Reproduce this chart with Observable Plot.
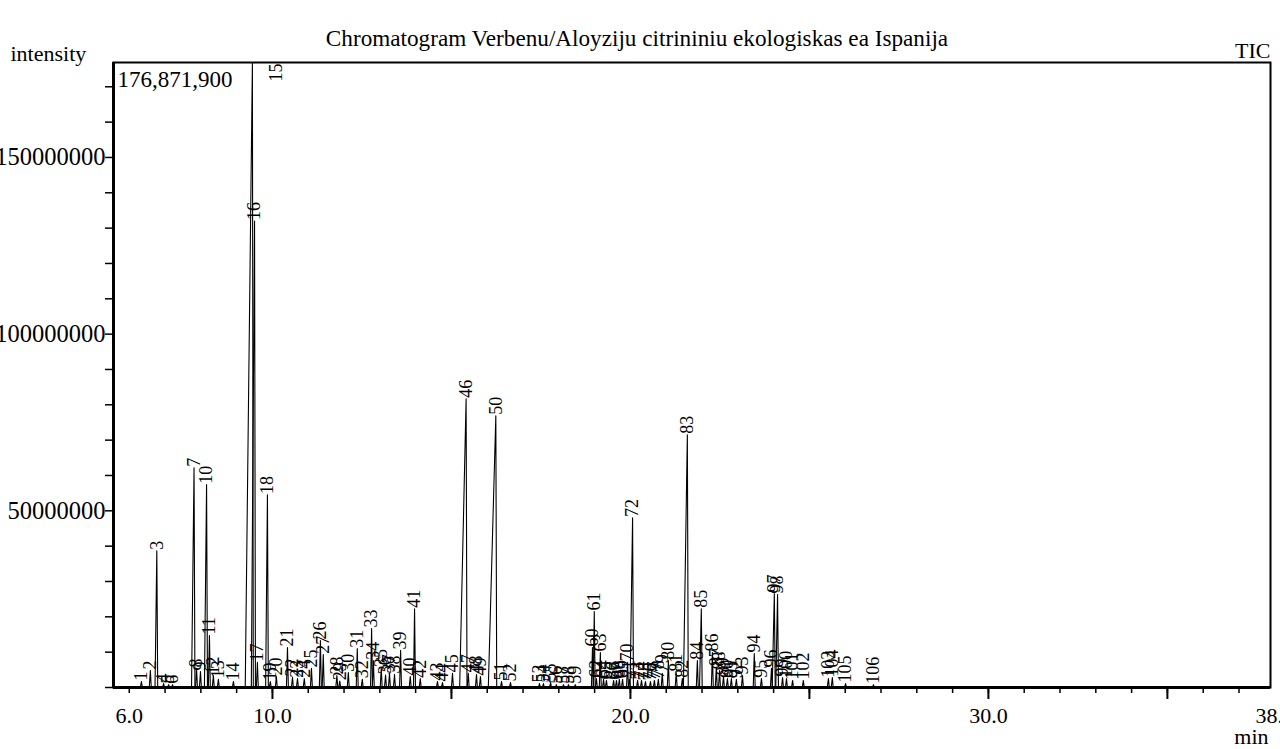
<!DOCTYPE html>
<html><head><meta charset="utf-8">
<script src="https://cdn.jsdelivr.net/npm/d3@7"></script>
<script src="https://cdn.jsdelivr.net/npm/@observablehq/plot@0.6"></script>
<style>html,body{margin:0;padding:0;background:#fff;overflow:hidden} #chart svg{display:block}</style>
</head><body><div id="chart"></div>
<script>
// ---- data ----
const chartTitle = "Chromatogram Verbenu/Aloyziju citrininiu ekologiskas ea Ispanija";
const maxIntensityLabel = "176,871,900";
const peakNo = [1,2,3,4,5,6,7,8,9,10,11,12,13,14,15,16,17,18,19,20,21,22,23,24,25,26,27,28,29,30,31,32,33,34,35,36,37,38,39,40,41,42,43,44,45,46,47,48,49,50,51,52,53,54,55,56,57,58,59,60,61,62,63,64,65,66,67,68,69,70,71,72,73,74,75,76,77,78,79,80,81,82,83,84,85,86,87,88,89,90,91,92,93,94,95,96,97,98,99,100,101,102,103,104,105,106];
const peakTime = [6.34,6.59,6.77,6.96,7.10,7.21,7.81,7.88,7.99,8.16,
  8.24,8.35,8.49,8.91,9.44,9.50,9.58,9.86,9.94,10.11,
  10.42,10.56,10.70,10.89,11.09,11.34,11.42,11.80,11.88,12.12,
  12.37,12.51,12.77,12.82,13.04,13.16,13.27,13.41,13.58,13.85,
  13.97,14.13,14.61,14.75,15.03,15.41,15.47,15.70,15.81,16.24,
  16.40,16.65,17.46,17.57,17.77,17.93,18.13,18.27,18.46,18.94,
  18.99,19.05,19.16,19.25,19.33,19.53,19.61,19.69,19.78,19.92,
  19.97,20.06,20.20,20.31,20.42,20.56,20.67,20.78,20.89,21.06,
  21.28,21.45,21.59,21.87,21.98,22.29,22.40,22.49,22.60,22.71,
  22.82,22.96,23.13,23.46,23.66,23.94,24.02,24.11,24.25,24.36,
  24.53,24.83,25.53,25.64,26.01,26.79];
const peakHeight = [1700000,4800000,38700000,1100000,800000,800000,62200000,5400000,4500000,57400000,
  14700000,3400000,2300000,1700000,176871900,132000000,7100000,54500000,1700000,3100000,
  11300000,2800000,2500000,2500000,5400000,13300000,9300000,3400000,1800000,4200000,
  11000000,2300000,16700000,7600000,5500000,3500000,4000000,3700000,10500000,3100000,
  22300000,2500000,1700000,1400000,4000000,81700000,4000000,3700000,3100000,76900000,
  1700000,1400000,1100000,1100000,1400000,800000,800000,800000,800000,11300000,
  21500000,2500000,9900000,2300000,2000000,2000000,2000000,2300000,2300000,7100000,
  2300000,48000000,2000000,2000000,1700000,1700000,2000000,2300000,4000000,7600000,
  4200000,2500000,71500000,7600000,22300000,9900000,5700000,4800000,3100000,2500000,
  2500000,2300000,3400000,9600000,2500000,5400000,26600000,26300000,2800000,2500000,
  2000000,2000000,2500000,2800000,1100000,800000];
// retention time where the wider peaks start rising (min before apex)
const peakRiseNo = [3,7,10,15,16,18,46,50,72,83,85,97,98];
const peakRise = [0.05,0.07,0.06,0.20,0.09,0.05,0.18,0.21,0.07,0.11,0.05,0.06,0.05];
const xTickValues = d3.range(6, 38);
const xMajorTickValues = [10, 15, 20, 25, 30, 35];
const xTickLabelValues = [6, 10, 20, 30, 38];
const xTickLabels = ["6.0", "10.0", "20.0", "30.0", "38.0"];
const yTickValues = d3.range(0, 175000000, 10000000);
const yTickLabelValues = [50000000, 100000000, 150000000];

// ---- build table ----
const xMin = 5.56, xMax = 37.88, yMax = 176871900;
const peaks = peakNo.map((n, i) => ({n, t: peakTime[i], h: peakHeight[i]}));
const trace = [];
for (const p of peaks) {
  const k = peakRiseNo.indexOf(p.n);
  const rise = k >= 0 ? peakRise[k] : 0.03;
  trace.push({z: p.n, t: p.t - rise, v: 0}, {z: p.n, t: p.t, v: p.h}, {z: p.n, t: p.t + 0.025, v: 0});
}
const serif = "'Liberation Serif', 'Times New Roman', serif";

const chart = Plot.plot({
  width: 1280, height: 749,
  marginTop: 62, marginBottom: 62, marginLeft: 113, marginRight: 10,
  x: {domain: [xMin, xMax], axis: null},
  y: {domain: [0, yMax], axis: null},
  style: {fontFamily: serif, fontSize: "22px", color: "black", background: "white"},
  marks: [
    Plot.ruleY([0], {stroke: "black"}),
    Plot.line(trace, {x: "t", y: "v", z: "z", stroke: "black", strokeWidth: 1.1, clip: true}),
    Plot.text(peaks.filter(p => p.n !== 15), {x: "t", y: "h", text: d => String(d.n), rotate: -90, textAnchor: "start", fontSize: 18, dy: -1, fill: "black"}),
    Plot.text(peaks.filter(p => p.n === 15), {x: "t", y: "h", text: d => String(d.n), rotate: -90, textAnchor: "end", fontSize: 18, dx: 24, dy: 1, fill: "black"}),
    Plot.frame({stroke: "black", strokeWidth: 2}),
    Plot.ruleX([xMin], {stroke: "black", strokeWidth: 3}),
    Plot.ruleY([0], {stroke: "black", strokeWidth: 3}),
    Plot.ruleY(yTickValues, {y: d => d, x1: xMin, x2: xMin, insetLeft: -8, stroke: "black", strokeWidth: 1.5}),
    Plot.ruleX(xTickValues, {x: d => d, y1: 0, y2: 0, insetBottom: -6, stroke: "black", strokeWidth: 1.5}),
    Plot.ruleX(xMajorTickValues, {x: d => d, y1: 0, y2: 0, insetBottom: -12, stroke: "black", strokeWidth: 2}),
    Plot.text(yTickLabelValues, {x: xMin, y: d => d, text: d => String(d), textAnchor: "end", dx: -8, fontSize: 24.5, fill: "black"}),
    Plot.text(xTickLabelValues, {x: d => d, y: 0, text: (d, i) => xTickLabels[i], lineAnchor: "top", dy: 20, fontSize: 22, fill: "black"}),
    Plot.text([maxIntensityLabel], {x: xMin, y: yMax, text: d => d, textAnchor: "start", lineAnchor: "top", dx: 4, dy: 8, fontSize: 23, fill: "black"}),
    Plot.text([chartTitle], {frameAnchor: "top", text: d => d, dx: -55, dy: -17, lineAnchor: "bottom", fontSize: 23.2, fill: "black"}),
    Plot.text(["intensity"], {frameAnchor: "top-left", text: d => d, textAnchor: "start", lineAnchor: "bottom", dx: -103, dy: -2, fontSize: 22, fill: "black"}),
    Plot.text(["TIC"], {frameAnchor: "top-right", text: d => d, textAnchor: "end", lineAnchor: "bottom", dy: -5, fontSize: 22, fill: "black"}),
    Plot.text(["min"], {frameAnchor: "bottom-right", text: d => d, textAnchor: "end", lineAnchor: "bottom", dy: 56, dx: -2, fontSize: 22, fill: "black"})
  ]
});
document.getElementById("chart").appendChild(chart);
</script>
</body></html>
